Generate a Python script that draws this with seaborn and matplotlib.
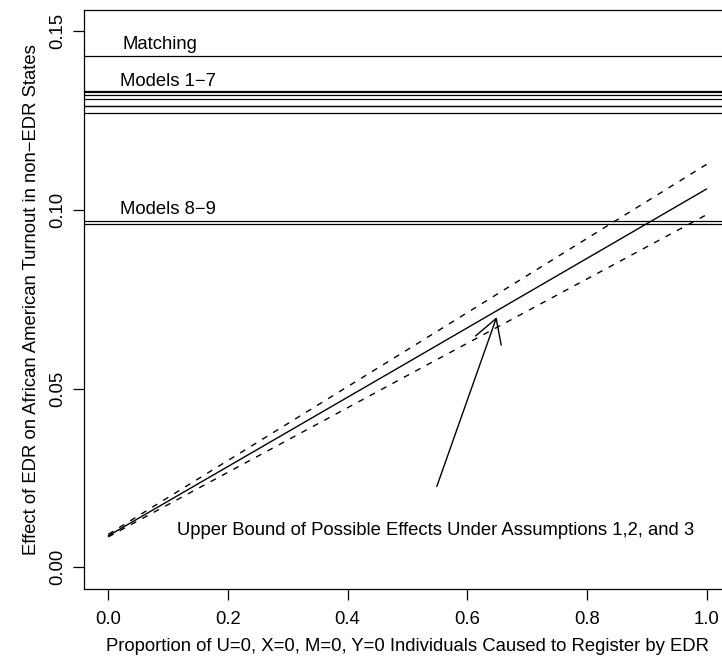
import matplotlib
matplotlib.use("Agg")
import matplotlib.pyplot as plt
import seaborn as sns
import numpy as np
import pandas as pd

# ---- data ----
matching_effect = [0.1430]
models_1_7 = [0.1332, 0.1330, 0.1321, 0.1312, 0.1291, 0.1290, 0.1272]
models_8_9 = [0.0969, 0.0960]

prop_x = [0.0, 0.5, 1.0]
bound_mid = [0.0088, 0.0573, 0.1059]
bound_upper = [0.0092, 0.0609, 0.1128]
bound_lower = [0.0085, 0.0537, 0.0987]

x_ticks = [0.0, 0.2, 0.4, 0.6, 0.8, 1.0]
y_ticks = [0.00, 0.05, 0.10, 0.15]

labels = {
    "Matching": (0.023, 0.1463),
    "Models 1\u22127": (0.020, 0.1360),
    "Models 8\u22129": (0.020, 0.1002),
}
arrow_text = "Upper Bound of Possible Effects Under Assumptions 1,2, and 3"
arrow_text_pos = (0.115, 0.0103)
arrow_start = (0.549, 0.0226)
arrow_tip = (0.649, 0.0700)

sns.set_theme(style="white")
plt.rcParams["font.family"] = ["Liberation Sans", "DejaVu Sans"]
plt.rcParams["lines.scale_dashes"] = False

FS = 13.3
fig = plt.figure(figsize=(7.22, 6.57), dpi=100)
ax = fig.add_axes([0.1168, 0.1040, 0.8951, 0.8808])

df = pd.DataFrame({"x": prop_x, "mid": bound_mid, "up": bound_upper, "lo": bound_lower})
sns.lineplot(data=df, x="x", y="mid", ax=ax, color="black", linewidth=1.0)
sns.lineplot(data=df, x="x", y="up", ax=ax, color="black", linewidth=1.0,
             linestyle=(0, (4.3, 5.0)))
sns.lineplot(data=df, x="x", y="lo", ax=ax, color="black", linewidth=1.0,
             linestyle=(0, (4.3, 5.0)))

for v in matching_effect + models_1_7 + models_8_9:
    ax.axhline(v, color="black", linewidth=0.9)

for txt, (tx, ty) in labels.items():
    ax.text(tx, ty, txt, fontsize=FS, ha="left", va="center", color="black")

ax.text(arrow_text_pos[0], arrow_text_pos[1], arrow_text, fontsize=FS,
        ha="left", va="center", color="black")
ax.annotate("", xy=arrow_tip, xytext=arrow_start,
            arrowprops=dict(arrowstyle="->,head_length=0.84,head_width=0.49",
                            mutation_scale=20,
                            color="black", lw=1.0, shrinkA=0, shrinkB=0),
            )

ax.set_xlim(-0.04, 1.04)
ax.set_ylim(-0.006, 0.156)
ax.set_xticks(x_ticks)
ax.set_xticklabels([f"{t:.1f}" for t in x_ticks])
ax.set_yticks(y_ticks)
ax.set_yticklabels([f"{t:.2f}" for t in y_ticks], rotation=90, va="center")

ax.tick_params(axis="both", which="major", direction="out", length=8, width=0.9,
               color="black", labelsize=FS, labelcolor="black", bottom=True, left=True)
ax.tick_params(axis="x", pad=8)
ax.tick_params(axis="y", pad=5)

for s in ax.spines.values():
    s.set_visible(True)
    s.set_color("black")
    s.set_linewidth(0.9)

ax.set_xlabel("Proportion of U=0, X=0, M=0, Y=0 Individuals Caused to Register by EDR",
              fontsize=FS, color="black", labelpad=7.5)
ax.set_ylabel("Effect of EDR on African American Turnout in non\u2212EDR States",
              fontsize=FS, color="black", labelpad=7)
ax.grid(False)

fig.savefig("out.png", dpi=100)
